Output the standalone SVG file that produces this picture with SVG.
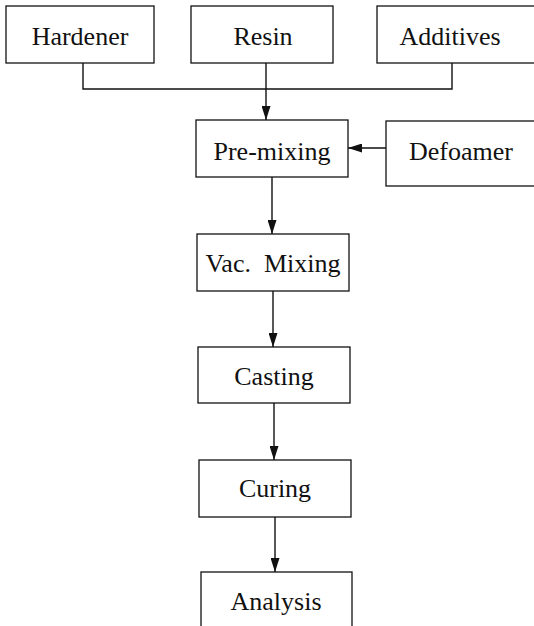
<svg xmlns="http://www.w3.org/2000/svg" width="534" height="626" viewBox="0 0 534 626">
<style>
.box{fill:#fff;stroke:#111;stroke-width:1.3}
.lbl{font-family:"Liberation Serif","Times New Roman",serif;font-size:26px;fill:#111;text-anchor:middle}
.ln{fill:none;stroke:#111;stroke-width:1.4}
</style>
<defs>
<marker id="ah" markerUnits="userSpaceOnUse" markerWidth="14" markerHeight="9" refX="14" refY="4.5" orient="auto">
<path d="M0,0 L14,4.5 L0,9 z" fill="#111"/>
</marker>
</defs>
<rect width="534" height="626" fill="#fff"/>
<g id="connectors">
<polyline class="ln" points="83,63 83,89 452,89 452,63"/>
<line class="ln" x1="266" y1="63" x2="266" y2="120" marker-end="url(#ah)"/>
<line class="ln" x1="386" y1="148" x2="348" y2="148" marker-end="url(#ah)"/>
<line class="ln" x1="272" y1="177" x2="272" y2="234" marker-end="url(#ah)"/>
<line class="ln" x1="273" y1="291" x2="273" y2="347" marker-end="url(#ah)"/>
<line class="ln" x1="274" y1="403" x2="274" y2="460" marker-end="url(#ah)"/>
<line class="ln" x1="275" y1="517" x2="275" y2="572" marker-end="url(#ah)"/>
</g>
<g id="hardener"><rect class="box" x="6" y="6" width="148" height="57"/><text class="lbl" x="80" y="45">Hardener</text></g>
<g id="resin"><rect class="box" x="191" y="6" width="142" height="57"/><text class="lbl" x="263" y="45">Resin</text></g>
<g id="additives"><rect class="box" x="377" y="6" width="170" height="57"/><text class="lbl" x="450" y="45">Additives</text></g>
<g id="premixing"><rect class="box" x="196" y="120" width="152" height="57"/><text class="lbl" x="272" y="160">Pre-mixing</text></g>
<g id="defoamer"><rect class="box" x="386" y="121" width="160" height="65"/><text class="lbl" x="461" y="160">Defoamer</text></g>
<g id="vacmixing"><rect class="box" x="197" y="234" width="152" height="57"/><text class="lbl" x="273" y="272" xml:space="preserve">Vac.  Mixing</text></g>
<g id="casting"><rect class="box" x="198" y="347" width="152" height="56"/><text class="lbl" x="274" y="385">Casting</text></g>
<g id="curing"><rect class="box" x="199" y="460" width="152" height="57"/><text class="lbl" x="275" y="497">Curing</text></g>
<g id="analysis"><rect class="box" x="201" y="572" width="151" height="70"/><text class="lbl" x="276" y="610">Analysis</text></g>
</svg>
